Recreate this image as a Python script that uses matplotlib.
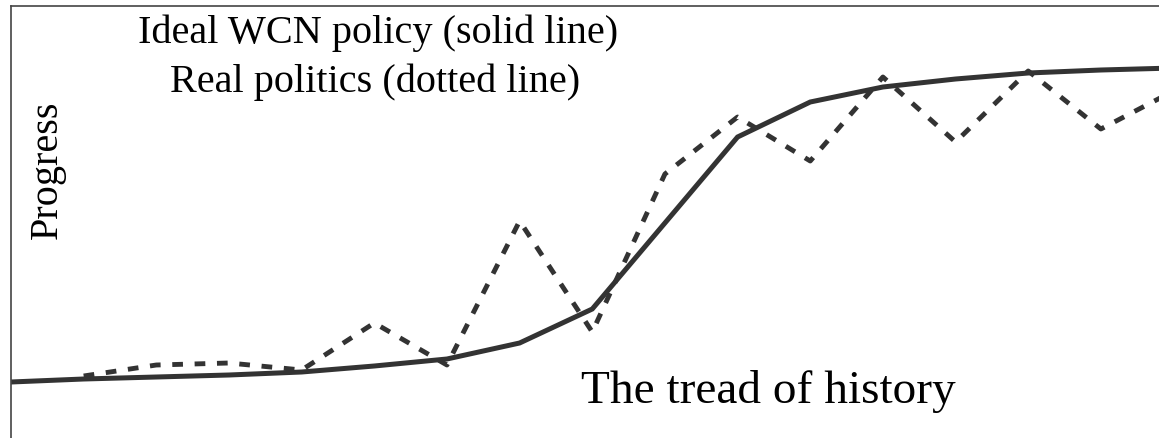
import matplotlib
matplotlib.use("Agg")
import matplotlib.pyplot as plt

# step along the tread of history (index) and progress level
ideal_x = [0, 1, 2, 3, 4, 5, 6, 7, 8, 10, 11, 12, 13, 14, 15, 16]
ideal_progress = [56, 59, 61, 63, 66, 72, 79, 95, 129, 301, 336, 351, 359, 365, 368, 370]

real_x = [1, 2, 3, 4, 5, 6, 7, 8, 9, 10, 11, 12, 13, 14, 15, 16]
real_progress = [62, 73, 75, 68, 115, 73, 217, 106, 264, 321, 277, 361, 296, 367, 309, 347]

title_lines = ["Ideal WCN policy (solid line)", "Real politics (dotted line)"]
y_label = "Progress"
x_label = "The tread of history"

W, H = 1159, 439
plt.rcParams['font.family'] = ['Liberation Serif', 'DejaVu Serif']

fig = plt.figure(figsize=(W / 100, H / 100), dpi=100)
ax = fig.add_axes([11 / W, 0, 1 - 11 / W, 1 - 7 / H])

line_color = '#333333'
ax.plot(ideal_x, ideal_progress, color=line_color, lw=3.6, solid_joinstyle='miter')
ax.plot(real_x, real_progress, color=line_color, lw=3.5,
        linestyle=(0, (2.2, 2.4)), dash_capstyle='butt')

ax.set_xlim(0, 15.8)
ax.set_ylim(0, 432)
ax.set_xticks([])
ax.set_yticks([])
for side in ['right', 'bottom']:
    ax.spines[side].set_visible(False)
for side in ['left', 'top']:
    ax.spines[side].set_color('#444444')
    ax.spines[side].set_linewidth(1.2)

fig.text(378 / W, 1 - 43 / H, title_lines[0], fontsize=29, ha='center', va='baseline')
fig.text(375 / W, 1 - 92 / H, title_lines[1], fontsize=29, ha='center', va='baseline')
fig.text(47 / W, 1 - 170 / H, y_label, fontsize=29, rotation=90, ha='center', va='center')
fig.text(768 / W, 1 - 403 / H, x_label, fontsize=34, ha='center', va='baseline')

fig.savefig("out.png", dpi=100)
